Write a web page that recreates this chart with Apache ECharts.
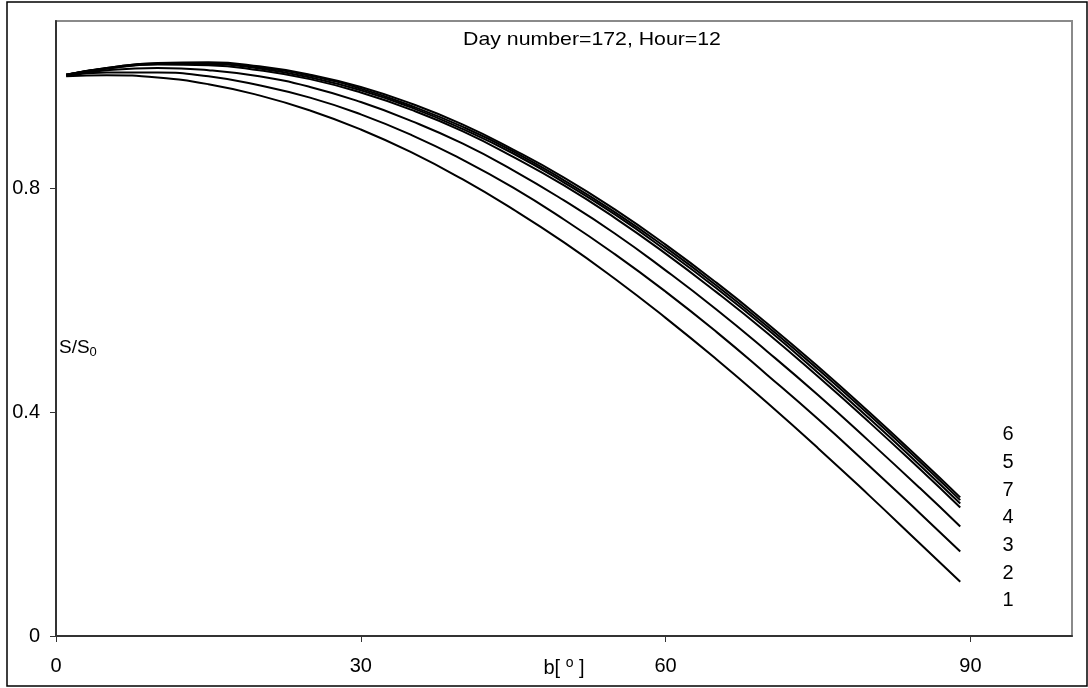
<!DOCTYPE html>
<html>
<head>
<meta charset="utf-8">
<script src="https://cdn.jsdelivr.net/npm/echarts@6/dist/echarts.min.js"></script>
<style>
  html, body { margin: 0; padding: 0; background: #fff; }
  #chart { width: 1088px; height: 688px; }
</style>
</head>
<body>
<div id="chart"></div>
<script>
// tilt angle b [deg]
var tilt = [1, 5, 10, 15, 20, 25, 30, 35, 40, 45, 50, 55, 60, 65, 70, 75, 80, 85, 89];
// S/S0, curves 1..7
var curve1 = [1.001, 1.003, 0.999, 0.987, 0.967, 0.940, 0.906, 0.865, 0.817, 0.763, 0.704, 0.639, 0.569, 0.495, 0.417, 0.336, 0.252, 0.166, 0.097];
var curve2 = [1.002, 1.008, 1.008, 1.001, 0.985, 0.963, 0.933, 0.896, 0.852, 0.802, 0.745, 0.683, 0.616, 0.544, 0.467, 0.388, 0.305, 0.220, 0.151];
var curve3 = [1.003, 1.012, 1.016, 1.012, 1.001, 0.982, 0.955, 0.921, 0.881, 0.833, 0.779, 0.720, 0.654, 0.584, 0.509, 0.431, 0.349, 0.265, 0.196];
var curve4 = [1.004, 1.015, 1.022, 1.021, 1.012, 0.996, 0.972, 0.941, 0.903, 0.857, 0.806, 0.748, 0.684, 0.615, 0.542, 0.464, 0.383, 0.299, 0.230];
var curve5 = [1.004, 1.016, 1.024, 1.024, 1.017, 1.002, 0.979, 0.948, 0.911, 0.867, 0.815, 0.758, 0.695, 0.627, 0.554, 0.477, 0.396, 0.312, 0.243];
var curve6 = [1.004, 1.016, 1.025, 1.026, 1.019, 1.004, 0.982, 0.952, 0.915, 0.870, 0.820, 0.763, 0.700, 0.632, 0.559, 0.482, 0.401, 0.317, 0.248];
var curve7 = [1.004, 1.015, 1.023, 1.023, 1.015, 0.999, 0.976, 0.945, 0.907, 0.863, 0.811, 0.754, 0.690, 0.622, 0.549, 0.471, 0.390, 0.306, 0.237];
var xTicks = [0, 30, 60, 90];
var yTicks = [0, 0.4, 0.8];
// curve numbers at right, top to bottom
var curveLabels = ["6", "5", "7", "4", "3", "2", "1"];

var FONT = "Liberation Sans, Arial, sans-serif";
var curves = [curve1, curve2, curve3, curve4, curve5, curve6, curve7];

function pairs(ys) {
  return tilt.map(function (b, i) { return [b, ys[i]]; });
}

var series = curves.map(function (c, i) {
  return {
    name: String(i + 1),
    type: "line",
    smooth: true,
    showSymbol: false,
    silent: true,
    lineStyle: { color: "#000", width: 2 },
    data: pairs(c)
  };
});

var graphic = [
  {
    type: "rect",
    shape: { x: 7, y: 2, width: 1080, height: 684 },
    style: { fill: "none", stroke: "#000", lineWidth: 1.5 },
    z: 100
  },
  {
    type: "text",
    x: 592, y: 40,
    scaleX: 1.12,
    style: {
      text: "Day number=172, Hour=12",
      font: "19px " + FONT,
      fill: "#000",
      textAlign: "center",
      textVerticalAlign: "middle"
    }
  },
  {
    type: "text",
    x: 59, y: 336,
    style: {
      text: "S/S{sub|0}",
      font: "19px " + FONT,
      fill: "#000",
      rich: { sub: { fontSize: 13, fontFamily: FONT, padding: [10, 0, 0, 0] } }
    }
  }
];

var labelY = [434, 462, 490, 517, 545, 573, 600];
curveLabels.forEach(function (t, i) {
  graphic.push({
    type: "text",
    x: 1008, y: labelY[i],
    style: {
      text: t,
      font: "20px " + FONT,
      fill: "#000",
      textAlign: "center",
      textVerticalAlign: "middle"
    }
  });
});

var option = {
  backgroundColor: "#fff",
  animation: false,
  grid: {
    left: 56, right: 16, top: 21, bottom: 52,
    outerBoundsMode: "none",
    containLabel: false,
    show: true,
    borderColor: "#8a8a8a",
    borderWidth: 2
  },
  xAxis: {
    type: "value",
    min: 0, max: 100, interval: 30,
    name: "b[ {sup|o} ]",
    nameLocation: "middle",
    nameGap: 20,
    nameMoveOverlap: false,
    nameTextStyle: {
      fontSize: 20, fontFamily: FONT, color: "#000",
      rich: { sup: { fontSize: 14, fontFamily: FONT, padding: [0, 0, 10, 0] } }
    },
    splitLine: { show: false },
    axisLine: { onZero: false, lineStyle: { color: "#333", width: 2 } },
    axisTick: { customValues: xTicks, length: 6, lineStyle: { color: "#333" } },
    axisLabel: {
      customValues: xTicks,
      margin: 20,
      fontSize: 20, fontFamily: FONT, color: "#000"
    }
  },
  yAxis: {
    type: "value",
    min: 0, max: 1.1, interval: 0.4,
    splitLine: { show: false },
    axisLine: { onZero: false, lineStyle: { color: "#333", width: 2 } },
    axisTick: { customValues: yTicks, length: 6, lineStyle: { color: "#333" } },
    axisLabel: {
      customValues: yTicks,
      margin: 16,
      fontSize: 20, fontFamily: FONT, color: "#000",
      formatter: function (v) { return String(v); }
    }
  },
  graphic: graphic,
  series: series
};

var chart = echarts.init(document.getElementById("chart"));
chart.setOption(option);
window.addEventListener("resize", function () { chart.resize(); });
</script>
</body>
</html>
